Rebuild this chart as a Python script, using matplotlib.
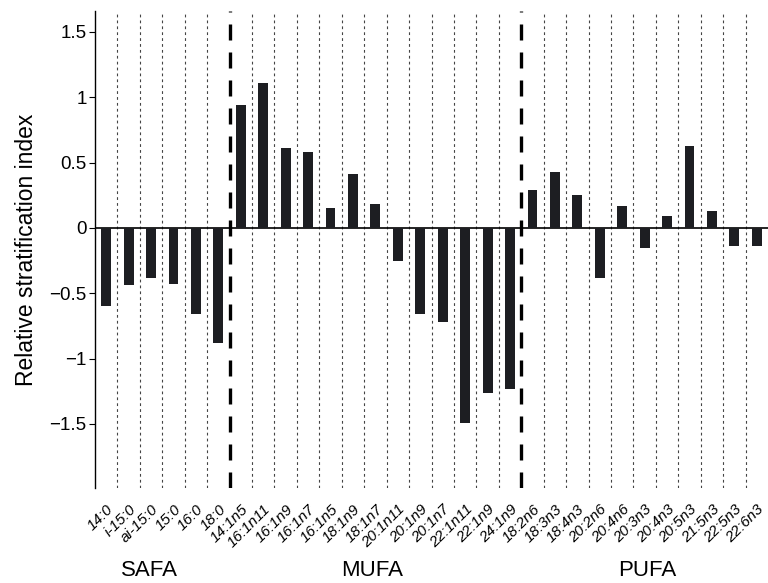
import matplotlib
matplotlib.use("Agg")
import matplotlib.pyplot as plt
import numpy as np

plt.rcParams['font.family'] = ['Liberation Sans', 'DejaVu Sans']

# 脂肪酸の種類と相対成層指数
fatty_acids = [
    "14:0", "i-15:0", "ai-15:0", "15:0", "16:0", "18:0",
    "14:1n5", "16:1n11", "16:1n9", "16:1n7", "16:1n5", "18:1n9", "18:1n7",
    "20:1n11", "20:1n9", "20:1n7", "22:1n11", "22:1n9", "24:1n9",
    "18:2n6", "18:3n3", "18:4n3", "20:2n6", "20:4n6", "20:3n3", "20:4n3",
    "20:5n3", "21:5n3", "22:5n3", "22:6n3",
]
stratification_index = [
    -0.60, -0.44, -0.38, -0.43, -0.66, -0.88,
    0.94, 1.11, 0.61, 0.58, 0.155, 0.41, 0.18,
    -0.255, -0.66, -0.72, -1.495, -1.26, -1.23,
    0.29, 0.43, 0.25, -0.38, 0.17, -0.155, 0.095,
    0.63, 0.13, -0.135, -0.135,
]
groups = ["SAFA", "MUFA", "PUFA"]
group_sizes = [6, 13, 11]
y_ticks = [-1.5, -1, -0.5, 0, 0.5, 1, 1.5]


def plot_stratification():
    fig = plt.figure(figsize=(7.68, 5.83), dpi=100)
    ax = fig.add_axes([0.1237, 0.163, 0.8763, 0.818])

    x = np.arange(len(fatty_acids))
    ax.bar(x, stratification_index, width=0.44, color="#1d1e22", zorder=3)

    # グループ境界は太い破線、それ以外は細い点線
    bounds = np.cumsum(group_sizes)[:-1] - 0.5
    for b in np.arange(0.5, len(fatty_acids) - 1, 1.0):
        if b in bounds:
            ax.axvline(b, color="black", lw=2.4, dashes=(4.8, 3.6), zorder=4)
        else:
            ax.axvline(b, color="#444444", lw=0.8, dashes=(2.5, 2.8), zorder=1)

    ax.axhline(0, color="black", lw=1.2, zorder=2)

    ax.set_xlim(-0.5, len(fatty_acids) - 0.5)
    ax.set_ylim(-1.99, 1.66)

    ax.set_yticks(y_ticks)
    ax.set_yticklabels([f"{v:g}".replace("-", "\u2212") for v in y_ticks],
                       fontsize=13.5)
    ax.tick_params(axis="y", direction="out", length=4, width=0.8, pad=2)

    ax.set_xticks(x)
    ax.set_xticklabels(fatty_acids, rotation=45, ha="right",
                       rotation_mode="anchor", fontsize=11)
    ax.tick_params(axis="x", length=0, pad=10)
    for lbl in ax.get_xticklabels():
        lbl.set_fontstyle("italic")

    for side in ("top", "right", "bottom"):
        ax.spines[side].set_visible(False)
    ax.spines["left"].set_linewidth(1.0)

    ax.set_ylabel("Relative stratification index", fontsize=16.5, labelpad=8)

    # グループ名を各グループの下に表示
    label_x = [1.95, 11.85, 24.1]
    for name, gx in zip(groups, label_x):
        ax.text(gx, -0.174, name, transform=ax.get_xaxis_transform(),
                ha="center", va="center", fontsize=16)

    fig.savefig("out.png", dpi=100)


if __name__ == "__main__":
    plot_stratification()
